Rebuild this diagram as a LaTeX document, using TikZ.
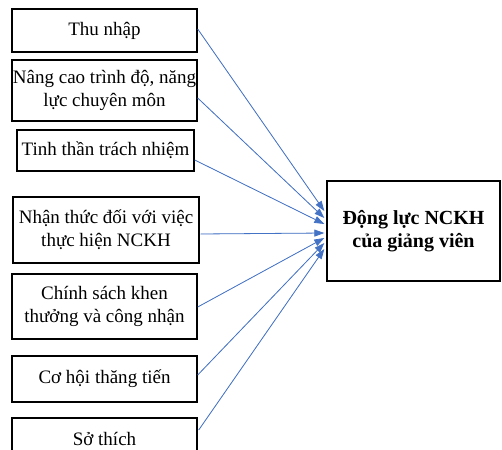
\documentclass[tikz,border=0pt]{standalone}
\usepackage{fontspec}
\setmainfont{Liberation Serif}
\usetikzlibrary{arrows.meta,calc}
\definecolor{arrowblue}{HTML}{4472C4}
\begin{document}
\begin{tikzpicture}[x=1pt,y=-1pt,
  factor/.style={draw=black, line width=1.4pt, inner sep=0pt, align=center,
    font=\fontsize{19}{23}\selectfont, minimum width=185pt},
  target/.style={draw=black, line width=1.4pt, inner sep=0pt, align=center,
    font=\fontsize{20}{23}\selectfont\bfseries, minimum width=173pt, minimum height=100pt},
  link/.style={draw=arrowblue, line width=0.8pt, -{Triangle[length=10pt,width=7pt]}, fill=arrowblue}
]
\clip (0,0) rectangle (502,449);
\fill[white] (0,0) rectangle (502,449);

\node[factor, minimum height=43pt] (b1) at (104.5,30.5) {Thu nhập};
\node[factor, minimum height=61pt] (b2) at (104.5,90.5) {Nâng cao trình độ, năng\\lực chuyên môn};
\node[factor, minimum width=177pt, minimum height=41pt] (b3) at (105.5,150.5) {Tinh thần trách nhiệm};
\node[factor, minimum width=186pt, minimum height=66pt] (b4) at (106,230) {Nhận thức đối với việc\\thực hiện NCKH};
\node[factor, minimum height=65pt] (b5) at (104.5,306.5) {Chính sách khen\\thưởng và công nhận};
\node[factor, minimum height=46pt] (b6) at (104.5,379) {Cơ hội thăng tiến};
\node[factor, minimum height=42pt] (b7) at (104.5,439) {Sở thích};

\node[target] (r) at (413.5,231) {Động lực NCKH\\của giảng viên};

\coordinate (t1) at ($(r.west)+(-2,-20)$);
\coordinate (t2) at ($(r.west)+(-2,-13)$);
\coordinate (t3) at ($(r.west)+(-2,-7)$);
\coordinate (t4) at ($(r.west)+(-2,2)$);
\coordinate (t5) at ($(r.west)+(-2,7)$);
\coordinate (t6) at ($(r.west)+(-2,12)$);
\coordinate (t7) at ($(r.west)+(-2,18)$);

\draw[link] ($(b1.east)+(0,-1.5)$) -- (t1);
\draw[link] ($(b2.east)+(0,7.5)$) -- (t2);
\draw[link] ($(b3.east)+(0,9.5)$) -- (t3);
\draw[link] ($(b4.east)+(1,4)$) -- (t4);
\draw[link] ($(b5.east)+(0,0.5)$) -- (t5);
\draw[link] ($(b6.east)+(0,-4)$) -- (t6);
\draw[link] ($(b7.east)+(1,-9)$) -- (t7);
\end{tikzpicture}
\end{document}
